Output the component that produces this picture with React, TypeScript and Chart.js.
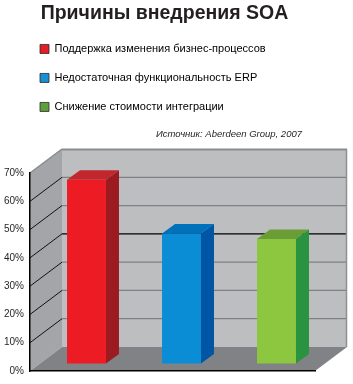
import React, { useEffect, useRef } from 'react';
import { Chart, registerables } from 'chart.js';

Chart.register(...registerables);

const TITLE = 'Причины внедрения SOA';
const SOURCE = 'Источник: Aberdeen Group, 2007';
const categories = [
  'Поддержка изменения бизнес-процессов',
  'Недостаточная функциональность ERP',
  'Снижение стоимости интеграции',
];
const values = [65, 46, 44];
const yMin = 0;
const yMax = 70;
const yStep = 10;
const highlightGridValue = 40;
const frontColors = ['#ed1c24', '#0a8dd4', '#8dc63f'];
const topColors = ['#c1272d', '#0072bc', '#6a9d35'];
const sideColors = ['#9b1b20', '#0055a4', '#2a9340'];
const legendColors = ['#e31e26', '#1a90d4', '#5e9e3c'];

const FONT = "'Liberation Sans', Arial, Helvetica, sans-serif";
const TEXT = '#231f20';
const FULL_DEPTH = { x: 32, y: -24 };
const BAR_SHIFT = { x: 9, y: -7.5 };
const BAR_DEPTH = { x: 13, y: -9.5 };
const SOURCE_SHIFT = -13;
const TITLE_SHIFT = -4;

function poly(ctx: CanvasRenderingContext2D, pts: number[][], fill: string) {
  ctx.beginPath();
  ctx.moveTo(pts[0][0], pts[0][1]);
  for (let i = 1; i < pts.length; i++) ctx.lineTo(pts[i][0], pts[i][1]);
  ctx.closePath();
  ctx.fillStyle = fill;
  ctx.fill();
}

function line(ctx: CanvasRenderingContext2D, x1: number, y1: number, x2: number, y2: number, color: string, w: number) {
  ctx.beginPath();
  ctx.moveTo(x1, y1);
  ctx.lineTo(x2, y2);
  ctx.strokeStyle = color;
  ctx.lineWidth = w;
  ctx.stroke();
}

const box3dPlugin = {
  id: 'box3d',
  afterLayout(chart: any) {
    for (const b of chart.boxes) {
      if (b.options && b.options.text === SOURCE) {
        b.left += SOURCE_SHIFT;
        b.right += SOURCE_SHIFT;
      } else if (b.options && b.options.text === TITLE) {
        b.left += TITLE_SHIFT;
        b.right += TITLE_SHIFT;
      }
    }
    // let the y tick labels use the space left of the axis (labels are clipped to the scale box)
    const ys = chart.scales.y;
    ys.left = 0;
    ys.width = ys.right;
  },
  beforeDraw(chart: any) {
    const ctx: CanvasRenderingContext2D = chart.ctx;
    const { left: L, right: R } = chart.chartArea;
    const ys = chart.scales.y;
    const y0 = ys.getPixelForValue(ys.min);
    const yT = ys.getPixelForValue(ys.max);
    const dx = FULL_DEPTH.x;
    const dy = FULL_DEPTH.y;
    ctx.save();
    // back wall
    ctx.fillStyle = '#bcbec0';
    ctx.fillRect(L + dx, yT + dy, R - L, y0 - yT);
    // left wall
    poly(ctx, [[L, yT], [L + dx, yT + dy], [L + dx, y0 + dy], [L, y0]], '#a4a5a8');
    // floor
    poly(ctx, [[L, y0], [L + dx, y0 + dy], [R + dx, y0 + dy], [R, y0]], '#818285');
    // grid lines
    ys.ticks.forEach((t: any) => {
      const v = t.value;
      const y = ys.getPixelForValue(v);
      if (v === ys.min) return;
      if (v === ys.max) {
        line(ctx, L, y, L + dx, y + dy, '#8a8b8d', 1.5);
        line(ctx, L + dx, y + dy + 0.5, R + dx, y + dy + 0.5, '#8a8b8d', 2);
        return;
      }
      line(ctx, L + dx, y + dy, R + dx, y + dy, v === highlightGridValue ? '#000000' : '#7f8083', 1.3);
      line(ctx, L, y, L + dx, y + dy, '#111111', 1);
    });
    // right edge of back wall
    line(ctx, R + dx - 0.5, yT + dy, R + dx - 0.5, y0 + dy, '#8e8f91', 1.5);
    ctx.restore();
  },
  beforeDatasetsDraw(chart: any) {
    chart.ctx.save();
    chart.ctx.translate(BAR_SHIFT.x, BAR_SHIFT.y);
  },
  afterDatasetsDraw(chart: any) {
    const ctx: CanvasRenderingContext2D = chart.ctx;
    const meta = chart.getDatasetMeta(0);
    const bx = BAR_DEPTH.x;
    const by = BAR_DEPTH.y;
    meta.data.forEach((bar: any, i: number) => {
      const { x, y, base, width } = bar.getProps(['x', 'y', 'base', 'width'], true);
      const l = x - width / 2;
      const r = x + width / 2;
      poly(ctx, [[l, y], [l + bx, y + by], [r + bx, y + by], [r, y]], topColors[i]);
      poly(ctx, [[r, y], [r + bx, y + by], [r + bx, base + by], [r, base]], sideColors[i]);
    });
    ctx.restore();
  },
};

export default function App() {
  const ref = useRef<HTMLCanvasElement | null>(null);

  useEffect(() => {
    if (!ref.current) return;
    Chart.defaults.font.family = FONT;
    const chart = new Chart(ref.current, {
      type: 'bar',
      data: {
        labels: categories,
        datasets: [
          {
            data: values,
            backgroundColor: frontColors,
            borderWidth: 0,
            categoryPercentage: 1,
            barPercentage: 0.41,
            clip: false as any,
          },
        ],
      },
      options: {
        responsive: false,
        animation: false,
        events: [],
        layout: { padding: { left: 22, right: 38, top: 0, bottom: 13 } },
        plugins: {
          title: {
            display: true,
            text: TITLE,
            color: TEXT,
            font: { size: 19.5, weight: 'bold', family: FONT, lineHeight: 1.1 },
            padding: { top: 2.5, bottom: 1.5 },
          },
          legend: {
            display: true,
            position: 'top',
            align: 'start',
            weight: 1800,
            labels: {
              boxWidth: 9,
              boxHeight: 9,
              padding: 18,
              color: TEXT,
              font: { size: 11, family: FONT },
              generateLabels: () =>
                categories.map((c, i) => ({
                  text: c,
                  fillStyle: legendColors[i],
                  strokeStyle: '#2a2a2a',
                  lineWidth: 0.8,
                  hidden: false,
                  index: i,
                  datasetIndex: 0,
                })),
            },
          } as any,
          subtitle: {
            display: true,
            text: SOURCE,
            align: 'end',
            color: TEXT,
            font: { size: 9.5, style: 'italic', family: FONT, lineHeight: 1.2 },
            padding: { top: 6.5, bottom: 32.65 },
          },
          tooltip: { enabled: false },
        },
        scales: {
          x: {
            grid: { display: false },
            ticks: { display: false },
            border: { display: true, color: '#000000', width: 1.5 },
            afterFit: (s: any) => {
              s.height = 0;
            },
          },
          y: {
            min: yMin,
            max: yMax,
            grid: { display: false, drawTicks: false },
            border: { display: true, color: '#000000', width: 1.5 },
            ticks: {
              stepSize: yStep,
              padding: 6,
              color: TEXT,
              font: { size: 10, family: FONT },
              callback: (v: any) => `${v}%`,
            },
            afterFit: (s: any) => {
              s.width = 8;
            },
          },
        },
      },
      plugins: [box3dPlugin],
    });
    return () => chart.destroy();
  }, []);

  return (
    <div style={{ position: 'absolute', left: 0, top: 0, width: 353, height: 384, background: '#ffffff' }}>
      <canvas ref={ref} width={353} height={384} style={{ display: 'block' }} />
    </div>
  );
}
